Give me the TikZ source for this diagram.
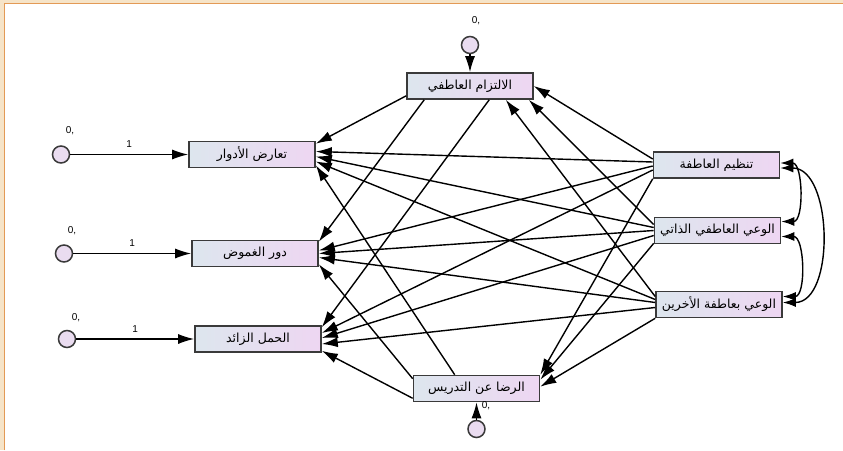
\documentclass[tikz,border=0pt]{standalone}
\usepackage{fontspec}
\setmainfont{Liberation Sans}
\newfontfamily\arabicfont[Script=Arabic]{DejaVu Sans}
\TeXXeTstate=1
\usetikzlibrary{arrows.meta}
\definecolor{boxL}{HTML}{DDE6EE}
\definecolor{boxR}{HTML}{EED6F2}
\definecolor{errfill}{HTML}{EADCF0}
\definecolor{framebg}{HTML}{F6E4C8}
\definecolor{frameline}{HTML}{E39A55}
\definecolor{inkgray}{HTML}{3A3A3A}
\newcommand{\artext}[1]{{\arabicfont\beginR #1\endR}}

\begin{document}
\begin{tikzpicture}[x=1pt,y=-1pt]

\tikzset{var/.style = {shape=rectangle,draw=inkgray,line width=1.6pt,left color=boxL,right color=boxR,minimum width=126pt,minimum height=26pt,inner sep=0pt,font=\fontsize{12.5}{14}\selectfont}}
\tikzset{err/.style = {shape=circle,draw=inkgray,line width=1.5pt,fill=errfill,minimum size=17pt,inner sep=0pt}}
\tikzset{edge/.style = {-{Latex[length=16pt,width=10pt]},line width=1.4pt}}
\tikzset{cov/.style = {{Latex[length=13pt,width=9pt]}-{Latex[length=13pt,width=9pt]},line width=1.4pt}}
\tikzset{num/.style = {font=\fontsize{10}{11}\selectfont,inner sep=0pt}}

% frame
\useasboundingbox (0,0) rectangle (843,450);
\fill[framebg] (0,0) rectangle (843,450);
\fill[white] (5,4) rectangle (843,450);
\draw[frameline,line width=1.2pt] (4.5,450) -- (4.5,3.5) -- (843,3.5);

% vertices
\node[var] (iltizam) at (470,86) {\artext{الالتزام العاطفي}};
\node[var] (taarud) at (252,154.5) {\artext{تعارض الأدوار}};
\node[var] (ghumud) at (255,253.5) {\artext{دور الغموض}};
\node[var] (haml) at (258,339) {\artext{الحمل الزائد}};
\node[var] (tanzim) at (716.5,165) {\artext{تنظيم العاطفة}};
\node[var] (wai) at (717.5,230.5) {\artext{الوعي العاطفي الذاتي}};
\node[var] (waiAkh) at (719,304.5) {\artext{الوعي بعاطفة الأخرين}};
\node[var] (rida) at (476.5,388.5) {\artext{الرضا عن التدريس}};

% errors
\node[err] (e1) at (61,154.5) {};
\node[err] (e2) at (64,253.5) {};
\node[err] (e3) at (67,339) {};
\node[err] (e4) at (470,45) {};
\node[err] (e5) at (476.5,429) {};
\node[num] (v1) at (70,131) {0,};
\node[num] (v2) at (72,231) {0,};
\node[num] (v3) at (76,318) {0,};
\node[num] (v4) at (476,21) {0,};
\node[num] (v5) at (486,406) {0,};

% error edges
\draw[edge] (e1) -- (taarud) node[num,midway,above=6pt] (w1) {1};
\draw[edge] (e2) -- (ghumud) node[num,midway,above=6pt] (w2) {1};
\draw[edge] (e3) -- (haml) node[num,midway,above=6pt] (w3) {1};
\draw[edge] (e4) -- (iltizam);
\draw[edge] (e5) -- (rida);

% predictors to iltizam
\draw[edge] ([shift={(0,-6)}]tanzim.west) -- (iltizam.east);
\draw[edge] ([shift={(0,-6)}]wai.west) -- ([shift={(-5,0)}]iltizam.south east);
\draw[edge] ([shift={(0,-8)}]waiAkh.west) -- ([shift={(-28,0)}]iltizam.south east);
% predictors to rida
\draw[edge] (tanzim.south west) -- (rida.north east);
\draw[edge] ([shift={(0,-1)}]wai.south west) -- ([shift={(0,5)}]rida.north east);
\draw[edge] (waiAkh.south west) -- ([shift={(0,12)}]rida.north east);
% predictors to taarud
\draw[edge] ([shift={(0,-3)}]tanzim.west) -- ([shift={(0,-3)}]taarud.east);
\draw[edge] ([shift={(0,-3)}]wai.west) -- ([shift={(0,2)}]taarud.east);
\draw[edge] ([shift={(0,-5)}]waiAkh.west) -- ([shift={(0,7)}]taarud.east);
% predictors to ghumud
\draw[edge] ([shift={(0,1)}]tanzim.west) -- ([shift={(0,-3)}]ghumud.east);
\draw[edge] (wai.west) -- (ghumud.east);
\draw[edge] ([shift={(0,-2)}]waiAkh.west) -- ([shift={(0,4)}]ghumud.east);
% predictors to haml
\draw[edge] ([shift={(0,5)}]tanzim.west) -- ([shift={(0,-6)}]haml.east);
\draw[edge] ([shift={(0,5)}]wai.west) -- ([shift={(0,-1)}]haml.east);
\draw[edge] ([shift={(0,3)}]waiAkh.west) -- ([shift={(0,5)}]haml.east);
% mediators to outcomes
\draw[edge] ([shift={(0,-4)}]iltizam.south west) -- ([shift={(0,3)}]taarud.north east);
\draw[edge] ([shift={(18,0)}]iltizam.south west) -- ([shift={(0,2)}]ghumud.north east);
\draw[edge] ([shift={(83,0)}]iltizam.south west) -- ([shift={(0,2)}]haml.north east);
\draw[edge] ([shift={(42,0)}]rida.north west) -- ([shift={(0,-3)}]taarud.south east);
\draw[edge] ([shift={(0,4)}]rida.north west) -- ([shift={(0,-3)}]ghumud.south east);
\draw[edge] ([shift={(0,-4)}]rida.south west) -- ([shift={(0,-2)}]haml.south east);

% covariances
\draw[cov] ([shift={(0,-2)}]tanzim.east) to[out=0,in=0] ([shift={(0,-9)}]wai.east);
\draw[cov] ([shift={(0,6)}]wai.east) to[out=0,in=0] ([shift={(0,-8)}]waiAkh.east);
\draw[cov] ([shift={(0,3)}]tanzim.east) to[out=0,in=0] ([shift={(0,-2)}]waiAkh.east);
\end{tikzpicture}
\end{document}
